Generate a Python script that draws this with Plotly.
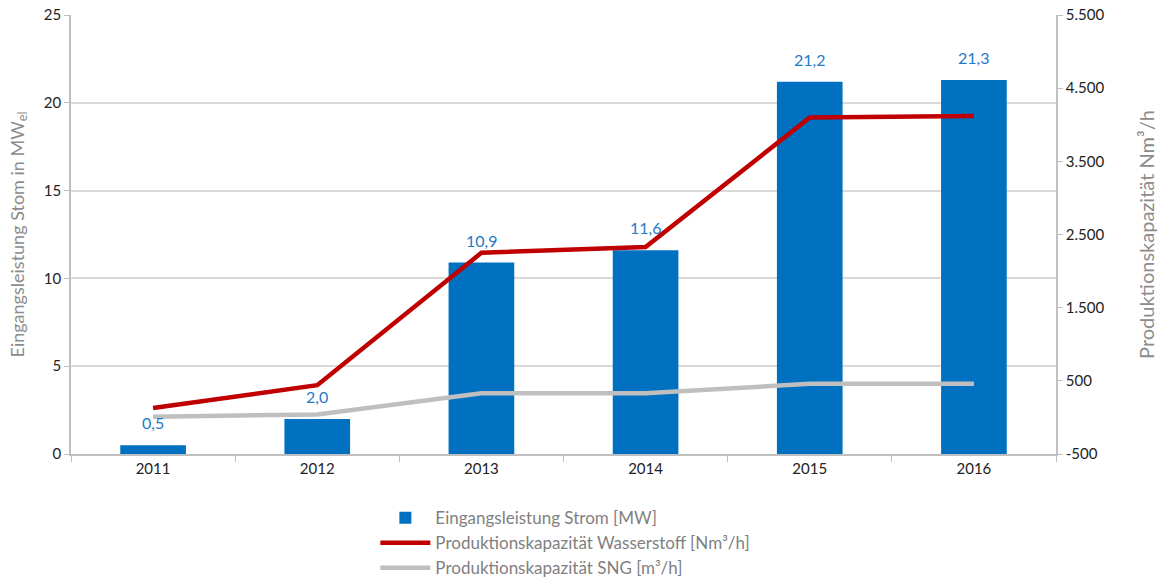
import plotly.graph_objects as go

years = ["2011", "2012", "2013", "2014", "2015", "2016"]
strom_mw = [0.5, 2.0, 10.9, 11.6, 21.2, 21.3]
wasserstoff_nm3h = [130, 440, 2250, 2330, 4100, 4120]
sng_m3h = [10, 40, 330, 330, 460, 460]
y2_tickvals = [-500, 500, 1500, 2500, 3500, 4500, 5500]
y2_ticktext = ["-500", "500", "1.500", "2.500", "3.500", "4.500", "5.500"]

FONT = "Lato, 'Open Sans', sans-serif"
AXIS_GRAY = "#BFBFBF"
GRID_GRAY = "#D9D9D9"

fig = go.Figure()
fig.add_trace(go.Bar(
    x=years, y=strom_mw, name="Eingangsleistung Strom [MW]",
    marker=dict(color="#0070C0", line=dict(width=0)),
    width=0.4, yaxis="y",
))
fig.add_trace(go.Scatter(
    x=years, y=wasserstoff_nm3h, name="Produktionskapazität Wasserstoff [Nm³/h]",
    mode="lines", line=dict(color="#C00000", width=4.5), yaxis="y2",
))
fig.add_trace(go.Scatter(
    x=years, y=sng_m3h, name="Produktionskapazität SNG [m³/h]",
    mode="lines", line=dict(color="#BFBFBF", width=4.5), yaxis="y2",
))

for i, v in enumerate(strom_mw):
    fig.add_annotation(
        x=i, y=v, xref="x", yref="y", text=f"{v:.1f}".replace(".", ","),
        showarrow=False, yanchor="bottom", yshift=11,
        font=dict(family=FONT, size=16, color="#1F7AC8"),
    )

fig.update_layout(
    width=1160, height=577,
    margin=dict(l=71, r=104, t=15, b=123, autoexpand=False),
    paper_bgcolor="white", plot_bgcolor="white",
    font=dict(family=FONT, size=14, color="#222222"),
    separators=",.",
    showlegend=True,
    legend=dict(
        x=0.309, xanchor="left", y=-0.105, yanchor="top",
        orientation="v", traceorder="normal",
        font=dict(family=FONT, size=17, color="#7F7F7F"),
        itemwidth=50, tracegroupgap=0, bgcolor="rgba(0,0,0,0)",
    ),
    xaxis=dict(
        type="category", range=[-0.5, 5.5], automargin=False,
        showline=True, linecolor=AXIS_GRAY, linewidth=1.5,
        ticks="outside", tickson="boundaries", tickcolor=AXIS_GRAY, ticklen=6,
        showgrid=False, tickfont=dict(size=15, color="#222222"), tickangle=0,
        ticklabeloverflow="allow",
    ),
    yaxis=dict(
        range=[0, 25], tickvals=[0, 5, 10, 15, 20, 25], automargin=False,
        showline=True, linecolor=AXIS_GRAY, linewidth=1.5,
        ticks="outside", tickcolor=AXIS_GRAY, ticklen=5,
        showgrid=True, gridcolor=GRID_GRAY, gridwidth=1.5, zeroline=False,
        tickfont=dict(size=15, color="#222222"), ticklabeloverflow="allow",
        title=dict(text="Eingangsleistung Stom in MW<sub>el</sub>",
                   font=dict(size=18, color="#8C8C8C"), standoff=15),
    ),
    yaxis2=dict(
        range=[-500, 5500], tickvals=y2_tickvals, ticktext=y2_ticktext,
        overlaying="y", side="right", automargin=False,
        showline=True, linecolor=AXIS_GRAY, linewidth=1.5,
        ticks="outside", tickcolor=AXIS_GRAY, ticklen=5,
        showgrid=False, zeroline=False,
        tickfont=dict(size=15, color="#222222"), ticklabeloverflow="allow",
        title=dict(text="Produktionskapazität Nm³/h",
                   font=dict(size=20, color="#8C8C8C"), standoff=37),
    ),
)

fig.write_html("out.html", config={"displayModeBar": False},
               post_script="document.body.style.margin='0';")
